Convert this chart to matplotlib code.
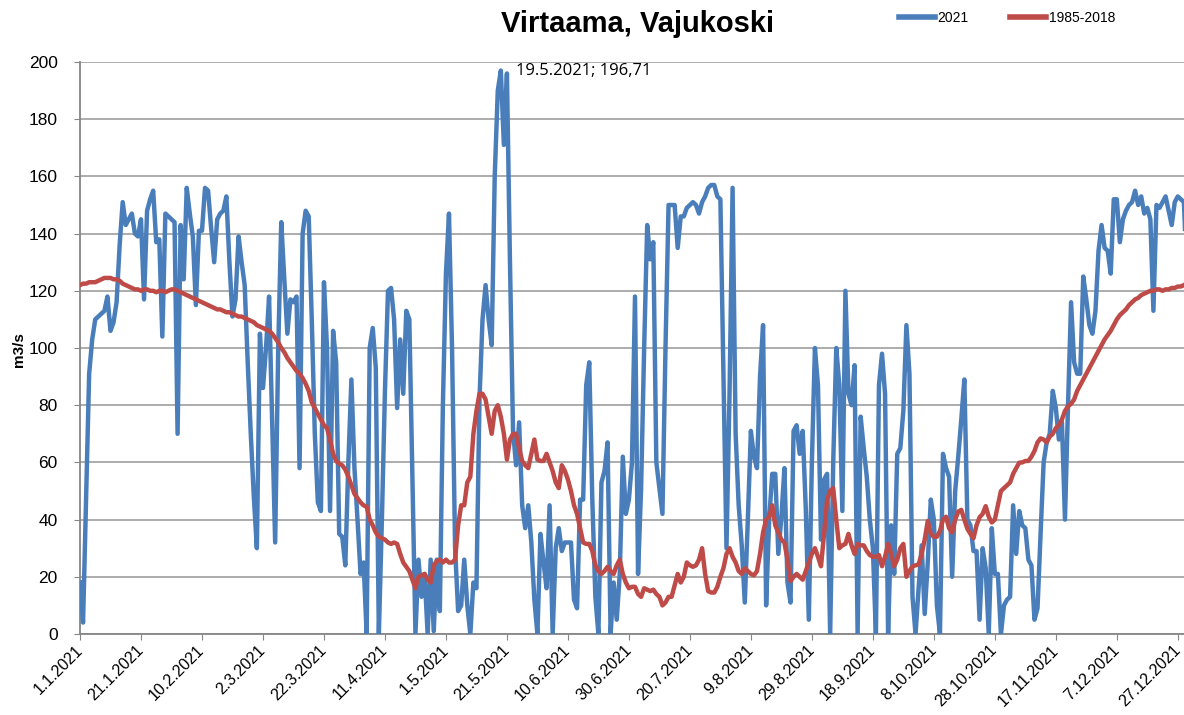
import numpy as np
import pandas as pd
import matplotlib
matplotlib.use('Agg')
import matplotlib.pyplot as plt

# Daily flow, m3/s
flow_2021 = [
    18, 4, 48, 91, 103, 110, 111, 112, 113, 118,
    106, 109, 116, 136, 151, 143, 145, 147, 140, 139,
    145, 117, 148, 152, 155, 137, 138, 104, 147, 146,
    145, 144, 70, 143, 124, 156, 147, 139, 115, 141,
    141, 156, 155, 142, 130, 145, 147, 148, 153, 130,
    111, 117, 139, 130, 122, 95, 70, 48, 30, 105,
    86, 100, 118, 75, 32, 100, 144, 124, 105, 117,
    116, 118, 58, 140, 148, 146, 110, 70, 46, 43,
    123, 100, 43, 106, 95, 35, 34, 24, 60, 89,
    58, 40, 21, 25, 0, 100, 107, 93, 0, 40,
    85, 120, 121, 110, 79, 103, 84, 113, 110, 55,
    0, 26, 13, 21, 0, 26, 1, 26, 8, 80,
    126, 147, 100, 30, 8, 10, 26, 10, 0, 18,
    16, 82, 110, 122, 110, 101, 160, 190, 197, 171,
    196, 130, 71, 59, 74, 45, 37, 45, 32, 12,
    0, 35, 25, 16, 45, 0, 30, 37, 29, 32,
    32, 32, 12, 9, 47, 47, 87, 95, 47, 13,
    0, 53, 57, 67, 0, 18, 5, 21, 62, 42,
    47, 60, 118, 21, 51, 100, 143, 131, 137, 60,
    51, 42, 100, 150, 150, 150, 135, 146, 146, 149,
    150, 151, 150, 147, 151, 153, 156, 157, 157, 153,
    152, 90, 30, 84, 156, 70, 45, 31, 11, 40,
    71, 62, 58, 90, 108, 10, 40, 56, 56, 28,
    41, 58, 18, 11, 71, 73, 63, 71, 44, 5,
    60, 100, 87, 33, 54, 56, 0, 60, 100, 87,
    43, 120, 84, 80, 94, 0, 76, 65, 55, 40,
    30, 0, 87, 98, 84, 0, 38, 21, 63, 65,
    78, 108, 91, 13, 0, 16, 31, 7, 25, 47,
    40, 10, 0, 63, 58, 55, 20, 50, 62, 75,
    89, 40, 38, 29, 29, 5, 30, 23, 0, 37,
    21, 21, 0, 10, 12, 13, 45, 28, 43, 38,
    37, 26, 24, 5, 9, 35, 60, 67, 70, 85,
    79, 68, 74, 40, 80, 116, 95, 91, 91, 125,
    117, 108, 105, 113, 134, 143, 135, 134, 126, 152,
    152, 137, 145, 148, 150, 151, 155, 150, 153, 147,
    149, 145, 113, 150, 149, 151, 153, 148, 143, 151,
    153, 152, 151, 125, 120,
]

flow_1985_2018 = [
    122, 122.5, 122.5, 123, 123, 123, 123.5, 124, 124.5, 124.5,
    124.5, 124, 124, 123.5, 122.5, 122, 121.5, 121, 120.5, 120.5,
    120, 120.5, 120.5, 120, 120, 119.5, 120, 120, 119.5, 120,
    120.5, 120.5, 120, 119.5, 119, 118.5, 118, 117.5, 117, 116.5,
    116, 115.5, 115, 114.5, 114, 113.5, 113.5, 113, 112.5, 112.5,
    112, 111.5, 111, 111, 110.5, 110, 109.5, 109, 108, 107.5,
    107, 106.5, 106, 105, 103.5, 102, 100, 98.5, 96.5, 95,
    93.5, 92, 91, 89.5, 87.5, 85, 81, 79, 77, 75,
    73, 72, 68, 63, 60.5, 59.5, 59, 57.5, 55, 52,
    49, 47.5, 46, 45, 44.5, 40, 38, 35.5, 34, 33.5,
    33, 32, 31.5, 32, 31.5, 28, 25, 23.5, 22, 19,
    16, 20, 20.5, 21, 19, 18, 24, 25.5, 26, 25,
    26, 25, 25, 26, 38, 45, 45, 53, 55, 70,
    78, 84, 84, 82, 76, 70, 78, 80, 76, 70,
    61, 68, 70, 70, 65, 60.5, 59, 58, 63, 68,
    61, 60.5, 60.5, 63, 60, 57, 53, 51, 59, 57,
    54, 50, 45, 42, 37, 32, 31.5, 31.5, 29, 24,
    22, 21, 22, 23.5, 22, 21, 24, 26, 21, 18,
    16, 16.5, 16.5, 14, 13, 16, 15.5, 15, 15.5, 14,
    13, 10, 11, 13, 13, 17, 21, 18, 20, 25,
    24, 23.5, 24, 26, 30, 21, 15, 14.5, 14.5, 16.5,
    20, 23, 28, 30, 27, 25, 22, 21, 23, 22,
    21, 20.5, 22, 28, 35.5, 40, 41, 45, 38, 35.5,
    33, 32, 26, 18.5, 20, 21, 20, 19, 22, 25,
    28, 30, 27, 23.7, 35, 47, 50, 51, 40, 30,
    31, 31.5, 35, 31, 28, 31.5, 31, 31, 29, 27.6,
    27, 27, 27.6, 23.7, 27, 31.5, 28, 23.7, 26, 30,
    31.5, 20, 22, 23.7, 24, 24.3, 28, 33, 39.5, 35,
    34, 34, 36, 40, 41, 37, 35.5, 40, 42.8, 43.4,
    40, 36.8, 35, 33.5, 38, 40.8, 42, 44.7, 41, 39,
    40, 45, 50, 51, 52, 53, 56, 58, 59.9, 60,
    60.5, 60.5, 62, 64, 67, 68.4, 68, 67, 69, 70,
    72, 73, 75, 78, 79.6, 80.5, 82, 85, 87, 89,
    91, 93, 95, 97, 99, 101, 103, 104.5, 106, 108,
    110, 111.5, 112.5, 113.5, 115, 116, 117, 117.5, 118.5, 119,
    119.5, 120, 120, 120.5, 120.5, 120, 120.5, 120.5, 121, 121,
    121.5, 121.5, 122, 122.5, 122.5,
]

tick_labels = ['1.1.2021', '21.1.2021', '10.2.2021', '2.3.2021', '22.3.2021',
               '11.4.2021', '1.5.2021', '21.5.2021', '10.6.2021', '30.6.2021',
               '20.7.2021', '9.8.2021', '29.8.2021', '18.9.2021', '8.10.2021',
               '28.10.2021', '17.11.2021', '7.12.2021', '27.12.2021']

days = np.arange(len(flow_2021))
tick_pos = np.arange(0, 20 * len(tick_labels), 20)

base = ['Liberation Sans', 'DejaVu Sans']

fig = plt.figure(figsize=(11.84, 7.15), dpi=100)
ax = fig.add_axes([80 / 1184, 1 - 634 / 715, 1110 / 1184, 572 / 715])

ax.plot(days, flow_2021, color='#4a7ebb', lw=3.2, solid_joinstyle='round', label='2021', zorder=3)
ax.plot(days, flow_1985_2018, color='#be4b48', lw=3.2, solid_joinstyle='round', label='1985-2018', zorder=4)

ax.set_xlim(0, 364)
ax.set_ylim(0, 200)
ax.set_yticks(np.arange(0, 201, 20))
ax.set_xticks(tick_pos)
ax.set_xticklabels(tick_labels, rotation=45, ha='right', va='center',
                   rotation_mode='anchor', fontsize=11.5, family=base)
for lab in ax.get_yticklabels():
    lab.set_family(base)
    lab.set_fontsize(12.5)

ax.grid(axis='y', color='#a6a6a6', lw=1.3)
ax.set_axisbelow(True)
for s in ['top', 'right']:
    ax.spines[s].set_visible(False)
for s in ['left', 'bottom']:
    ax.spines[s].set_color('#868686')
    ax.spines[s].set_linewidth(1.3)
ax.tick_params(axis='y', length=4, color='#868686', pad=12)
ax.tick_params(axis='x', length=4, color='#868686', pad=6)

fig.text(19 / 1184, 1 - 350 / 715, 'm3/s', rotation=90, ha='center', va='center',
         fontsize=11, fontweight='bold', family=base)

# peak annotation
peak = int(np.argmax(flow_2021))
ax.annotate('19.5.2021; 196,71', xy=(peak, 196.71), xytext=(11, 0),
            textcoords='offset points', va='center', ha='left',
            fontsize=12, family=['Open Sans', 'DejaVu Sans'])

fig.text(638 / 1184, 1 - 24 / 715, 'Virtaama, Vajukoski', ha='center', va='center',
         fontsize=21, fontweight='bold', family=base)

leg = fig.legend(loc='center left', bbox_to_anchor=(886 / 1184, 1 - 18 / 715),
                 ncol=2, frameon=False, handlelength=2.6,
                 columnspacing=3.0, handletextpad=0.2,
                 prop={'family': base, 'size': 10})
for line in leg.get_lines():
    line.set_linewidth(4)

fig.savefig('out.png', dpi=100)
